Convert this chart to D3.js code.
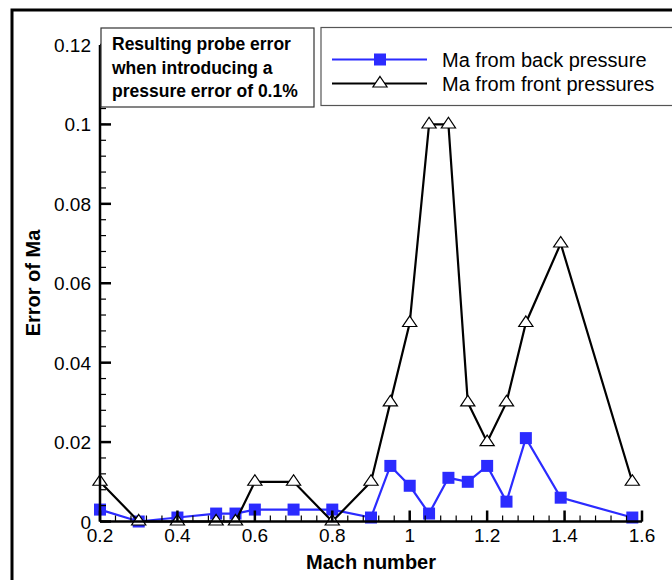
<!DOCTYPE html>
<html>
<head>
<meta charset="utf-8">
<script src="https://cdn.jsdelivr.net/npm/d3@7"></script>
<style>
  body { margin: 0; background: #fff; }
  text { font-family: "Liberation Sans", Arial, sans-serif; }
</style>
</head>
<body>
<script>
// dados
const mach = [0.2, 0.3, 0.4, 0.5, 0.55, 0.6, 0.7, 0.8, 0.9, 0.95, 1.0, 1.05, 1.1, 1.15, 1.2, 1.25, 1.3, 1.39, 1.575];
const erroTras = [0.003, 0, 0.001, 0.002, 0.002, 0.003, 0.003, 0.003, 0.001, 0.014, 0.009, 0.002, 0.011, 0.010, 0.014, 0.005, 0.021, 0.006, 0.001];
const erroFrente = [0.01, 0, 0, 0, 0, 0.01, 0.01, 0, 0.01, 0.03, 0.05, 0.1, 0.1, 0.03, 0.02, 0.03, 0.05, 0.07, 0.01];
const xTicks = [0.2, 0.4, 0.6, 0.8, 1, 1.2, 1.4, 1.6];
const yTicks = [0, 0.02, 0.04, 0.06, 0.08, 0.1, 0.12];
const nomes = ["Ma from back pressure", "Ma from front pressures"];
const notaLinhas = ["Resulting probe error", "when introducing a", "pressure error of 0.1%"];

const azul = "#2b2bff";

const svg = d3.select("body").append("svg").attr("width", 672).attr("height", 580);

// moldura externa
svg.append("rect").attr("x", 12).attr("y", 10).attr("width", 680).attr("height", 600)
  .attr("fill", "none").attr("stroke", "#000").attr("stroke-width", 3);

const x = d3.scaleLinear().domain([0.2, 1.6]).range([100, 642]);
const y = d3.scaleLinear().domain([0, 0.12]).range([521.5, 45]);

const linha = serie => d3.line().x((d, i) => x(mach[i])).y(d => y(d))(serie);

// serie azul (pressao de tras)
svg.append("path").attr("d", linha(erroTras)).attr("fill", "none")
  .attr("stroke", azul).attr("stroke-width", 2.2);
svg.selectAll(".quad").data(erroTras).join("rect").attr("class", "quad")
  .attr("x", (d, i) => x(mach[i]) - 6).attr("y", d => y(d) - 6)
  .attr("width", 12).attr("height", 12).attr("fill", azul);

// serie preta (pressoes da frente)
const tri = d3.symbol().type(d3.symbolTriangle).size(80);
svg.append("path").attr("d", linha(erroFrente)).attr("fill", "none")
  .attr("stroke", "#000").attr("stroke-width", 2.2);
svg.selectAll(".tri").data(erroFrente).join("path").attr("class", "tri")
  .attr("d", tri).attr("transform", (d, i) => `translate(${x(mach[i])},${y(d)}) scale(1.05,0.9)`)
  .attr("fill", "#fff").attr("stroke", "#000").attr("stroke-width", 1.2);

// eixos (desenhados por cima)
const eixoX = svg.append("g").attr("transform", `translate(0,${y(0)})`);
eixoX.append("line").attr("x1", x(0.2)).attr("x2", x(1.6)).attr("stroke", "#000").attr("stroke-width", 2.5);
eixoX.selectAll(".menor").data(d3.range(0.2, 1.6001, 0.04)).join("line")
  .attr("x1", d => x(d)).attr("x2", d => x(d)).attr("y1", 0).attr("y2", -6)
  .attr("stroke", "#000").attr("stroke-width", 1.2);
eixoX.selectAll(".maior").data(xTicks).join("line")
  .attr("x1", d => x(d)).attr("x2", d => x(d)).attr("y1", 0).attr("y2", -11)
  .attr("stroke", "#000").attr("stroke-width", 2.5);
eixoX.selectAll("text").data(xTicks).join("text")
  .attr("x", d => x(d)).attr("y", 20.5).attr("text-anchor", "middle")
  .attr("font-size", 19).text(d => d3.format("")(d));

const eixoY = svg.append("g").attr("transform", `translate(${x(0.2)},0)`);
eixoY.append("line").attr("y1", y(0)).attr("y2", y(0.12)).attr("stroke", "#000").attr("stroke-width", 2.5);
eixoY.selectAll(".menor").data(d3.range(0, 0.1201, 0.004)).join("line")
  .attr("y1", d => y(d)).attr("y2", d => y(d)).attr("x1", 0).attr("x2", 6)
  .attr("stroke", "#000").attr("stroke-width", 1.2);
eixoY.selectAll(".maior").data(yTicks).join("line")
  .attr("y1", d => y(d)).attr("y2", d => y(d)).attr("x1", 0).attr("x2", 11)
  .attr("stroke", "#000").attr("stroke-width", 2.5);
eixoY.selectAll("text").data(yTicks).join("text")
  .attr("x", -9).attr("y", d => y(d) + 7).attr("text-anchor", "end")
  .attr("font-size", 19).text(d => d3.format("")(d));

// titulos dos eixos
svg.append("text").attr("x", 371).attr("y", 569).attr("text-anchor", "middle")
  .attr("font-size", 20).attr("font-weight", "bold").text("Mach number");
svg.append("text").attr("transform", "translate(40,283) rotate(-90)").attr("text-anchor", "middle")
  .attr("font-size", 20).attr("font-weight", "bold").text("Error of Ma");

// caixa de nota
svg.append("rect").attr("x", 101).attr("y", 28).attr("width", 213).attr("height", 79)
  .attr("fill", "#fff").attr("stroke", "#333").attr("stroke-width", 1.2);
svg.append("text").attr("font-size", 17.5).attr("font-weight", "bold")
  .selectAll("tspan").data(notaLinhas).join("tspan")
  .attr("x", 112).attr("y", (d, i) => 50 + i * 23.5).text(d => d);

// legenda
svg.append("rect").attr("x", 321).attr("y", 27.5).attr("width", 360).attr("height", 78)
  .attr("fill", "#fff").attr("stroke", "#555").attr("stroke-width", 1.2);
const leg = svg.selectAll(".leg").data(nomes).join("g").attr("class", "leg")
  .attr("transform", (d, i) => `translate(0,${59.5 + i * 24})`);
leg.append("line").attr("x1", 332).attr("x2", 427)
  .attr("stroke", (d, i) => i ? "#000" : azul).attr("stroke-width", 2);
leg.filter((d, i) => i === 0).append("rect").attr("x", 374).attr("y", -6)
  .attr("width", 12).attr("height", 12).attr("fill", azul);
leg.filter((d, i) => i === 1).append("path").attr("d", tri)
  .attr("transform", "translate(380,0) scale(1.05,0.9)")
  .attr("fill", "#fff").attr("stroke", "#000").attr("stroke-width", 1.2);
leg.append("text").attr("x", 442).attr("y", 7).attr("font-size", 20).text(d => d);
</script>
</body>
</html>
